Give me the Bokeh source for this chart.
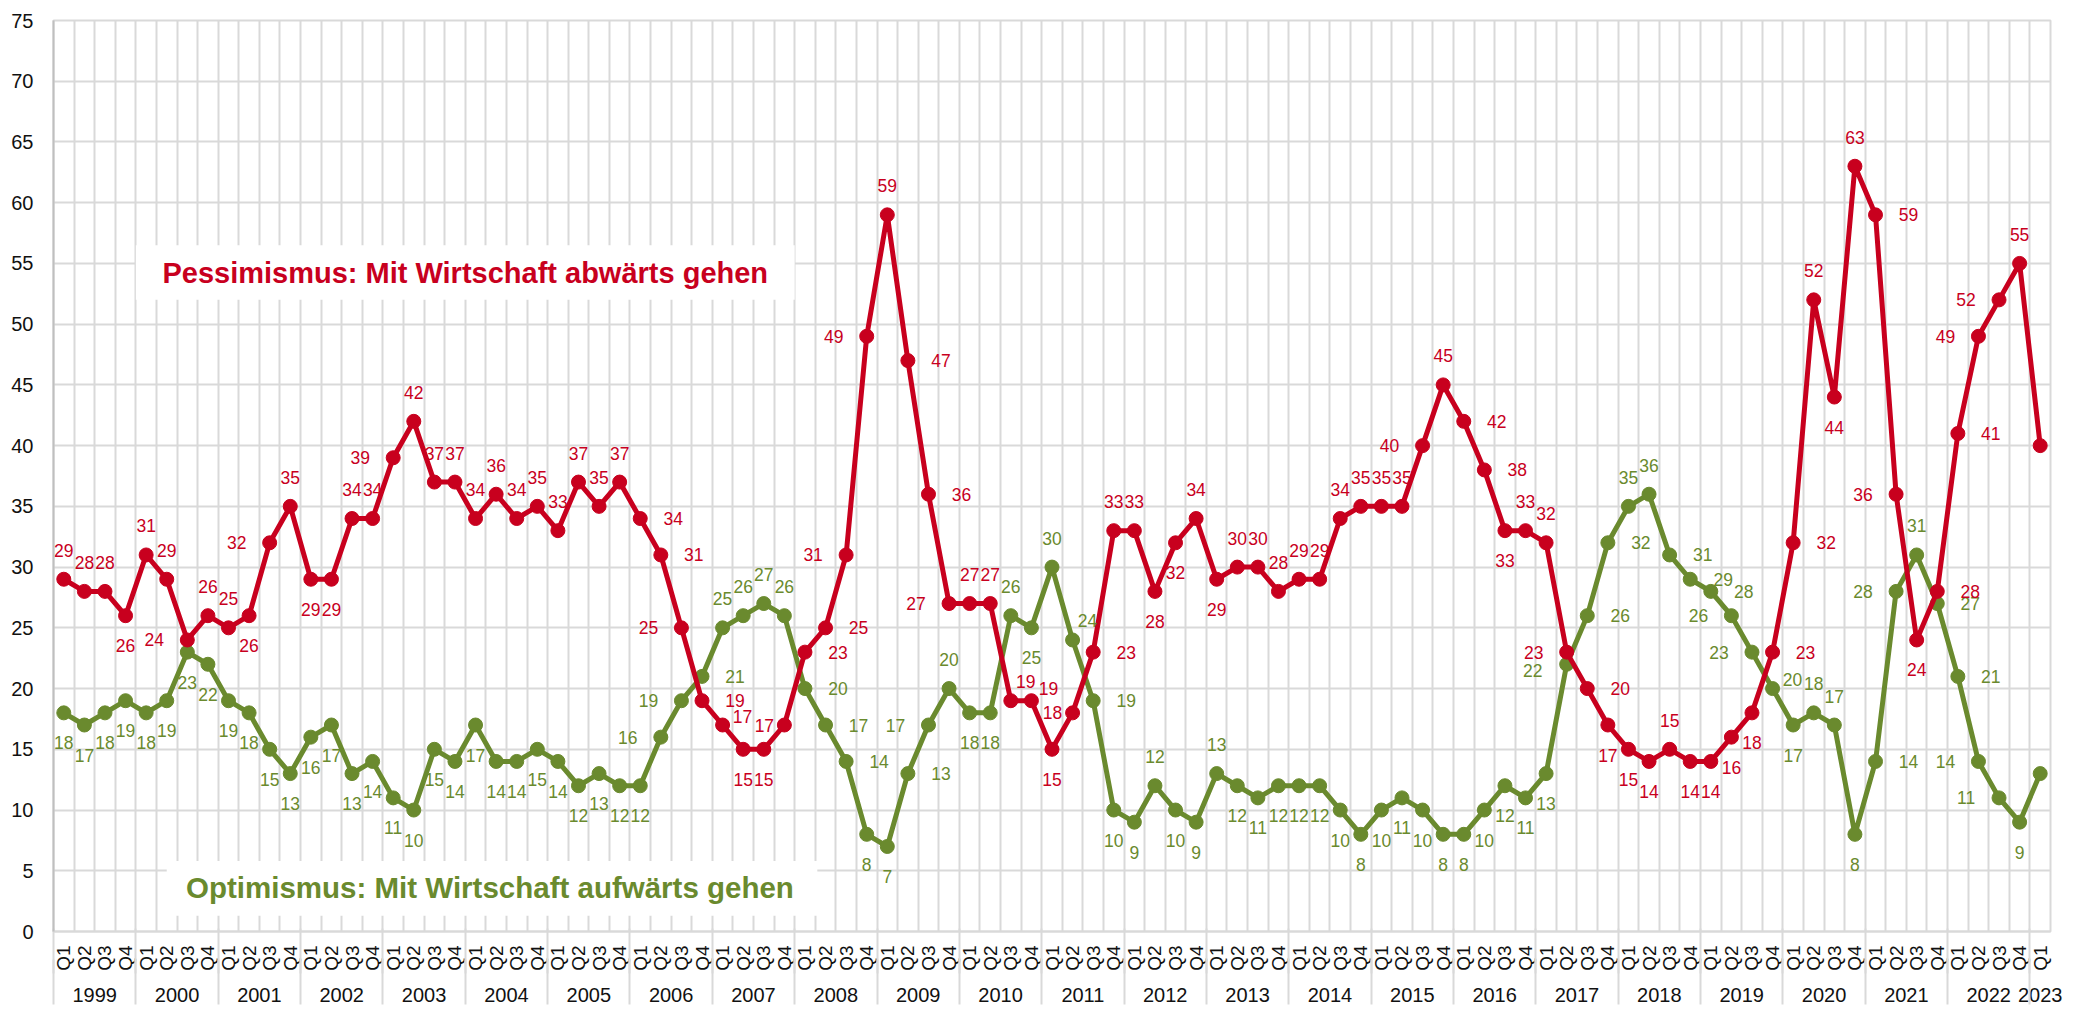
import numpy as np
from bokeh.plotting import figure
from bokeh.models import ColumnDataSource, FixedTicker, LinearAxis, Range1d, Grid
from bokeh.core.properties import value
from bokeh.embed import file_html
from bokeh.resources import INLINE

# ---------------- data ----------------
years = [str(y) for y in range(1999, 2024)]
quarters = ["Q1", "Q2", "Q3", "Q4"]
periods = [(y, q) for y in years for q in quarters][:97]

pessimism = [29, 28, 28, 26,  31, 29, 24, 26,  25, 26, 32, 35,  29, 29, 34, 34,
             39, 42, 37, 37,  34, 36, 34, 35,  33, 37, 35, 37,  34, 31, 25, 19,
             17, 15, 15, 17,  23, 25, 31, 49,  59, 47, 36, 27,  27, 27, 19, 19,
             15, 18, 23, 33,  33, 28, 32, 34,  29, 30, 30, 28,  29, 29, 34, 35,
             35, 35, 40, 45,  42, 38, 33, 33,  32, 23, 20, 17,  15, 14, 15, 14,
             14, 16, 18, 23,  32, 52, 44, 63,  59, 36, 24, 28,  41, 49, 52, 55,
             40]
optimism = [18, 17, 18, 19,  18, 19, 23, 22,  19, 18, 15, 13,  16, 17, 13, 14,
            11, 10, 15, 14,  17, 14, 14, 15,  14, 12, 13, 12,  12, 16, 19, 21,
            25, 26, 27, 26,  20, 17, 14, 8,   7, 13, 17, 20,   18, 18, 26, 25,
            30, 24, 19, 10,  9, 12, 10, 9,    13, 12, 11, 12,  12, 12, 10, 8,
            10, 11, 10, 8,   8, 10, 12, 11,   13, 22, 26, 32,  35, 36, 31, 29,
            28, 26, 23, 20,  17, 18, 17, 8,   14, 28, 31, 27,  21, 14, 11, 9,
            13]

# label placement codes (a=above, b=below, l=left, r=right, others: near variants)
pess_pos = ["a", "a", "a", "b",  "a", "a", "l", "a",  "a", "b", "l", "a",  "b", "b", "a", "a",
            "l", "a", "a", "a",  "a", "a", "a", "a",  "a", "a", "a", "a",  "r", "r", "l", "r",
            "rn", "b", "b", "ln", "r", "r", "l", "l",  "a", "r", "r", "l",  "a", "a", "ar", "ar2",
            "b", "ln", "r", "a",  "a", "b", "b", "a",  "b", "a", "a", "a",  "a", "a", "a", "a",
            "a", "a", "l", "a",  "r", "r", "b", "a",  "a", "l", "r", "b",  "b", "b", "a", "b",
            "b", "b", "b", "r",  "r", "a", "b", "a",  "r", "l", "b", "r",  "r", "l", "l", "a",
            "r"]
opt_pos = ["b", "b", "b", "b",  "b", "b", "b", "b",  "b", "b", "b", "b",  "b", "b", "b", "b",
           "b", "b", "b", "b",  "b", "b", "b", "b",  "b", "b", "b", "b",  "b", "l", "l", "r",
           "a", "a", "a", "a",  "r", "r", "r", "b",  "b", "r", "l", "a",  "b", "b", "a", "b",
           "a", "ar", "r", "b", "b", "a", "b", "b",  "a", "b", "b", "b",  "b", "b", "b", "b",
           "b", "b", "b", "b",  "b", "b", "b", "b",  "b", "lb", "r", "r",  "a", "a", "r", "r",
           "r", "l", "l", "rn",  "b", "a", "a", "b",  "r", "l", "a", "r",  "r", "l", "l", "b",
           "r"]

pess_title = "Pessimismus: Mit Wirtschaft abwärts gehen"
opt_title = "Optimismus: Mit Wirtschaft aufwärts gehen"

# ---------------- style ----------------
RED = "#C8001E"
GREEN = "#6A8A2E"
GRID = "#d9d9d9"
FONT = "Liberation Sans, Arial, sans-serif"
OFFS = {"a": (0, -29), "b": (0, 30), "l": (-33, 0), "r": (33, 0),
        "ar": (15, -19), "ar2": (17, -12), "rn": (20, -9), "ln": (-20, 0), "lb": (-34, 6)}

n = len(periods)
xs = list(range(n))

p = figure(width=2082, height=1008, x_range=Range1d(-0.5, n - 0.5), y_range=Range1d(0, 75),
           output_backend="svg", toolbar_location=None, x_axis_type=None,
           min_border_left=53, min_border_right=32, min_border_top=20, min_border_bottom=77)
p.background_fill_color = "white"
p.border_fill_color = "white"
p.outline_line_color = GRID
p.outline_line_width = 2

# y axis
p.yaxis.ticker = FixedTicker(ticks=list(range(0, 80, 5)))
p.yaxis.major_tick_line_color = None
p.yaxis.minor_tick_line_color = None
p.yaxis.major_tick_out = 0
p.yaxis.minor_tick_out = 0
p.yaxis.axis_line_color = "#bfbfbf"
p.yaxis.axis_line_width = 2
p.yaxis.major_label_text_font = FONT
p.yaxis.major_label_text_font_size = "20px"
p.yaxis.major_label_text_color = "#111111"
p.yaxis.major_label_standoff = 20
p.ygrid.ticker = FixedTicker(ticks=list(range(0, 80, 5)))
p.ygrid.grid_line_color = GRID
p.ygrid.grid_line_width = 2

# vertical grid at quarter boundaries
p.add_layout(Grid(dimension=0, ticker=FixedTicker(ticks=[i - 0.5 for i in range(n + 1)]),
                  grid_line_color=GRID, grid_line_width=2))

# year grouping
year_names, year_centers, year_starts = [], [], []
for y in years:
    idx = [i for i in xs if periods[i][0] == y]
    if idx:
        year_names.append(y)
        year_centers.append(float(np.mean(idx)))
        year_starts.append(idx[0] - 0.5)

# quarter axis
qaxis = LinearAxis(ticker=FixedTicker(ticks=xs),
                   major_label_overrides={i: periods[i][1] for i in xs},
                   major_label_orientation=np.pi / 2,
                   major_tick_line_color=None, minor_tick_line_color=None,
                   major_tick_out=0, major_tick_in=0, minor_tick_out=0, minor_tick_in=0,
                   axis_line_color=GRID, axis_line_width=2,
                   major_label_text_font=FONT, major_label_text_font_size="19px",
                   major_label_text_color="#111111", major_label_standoff=14)
p.add_layout(qaxis, "below")

# year axis (separators drawn upward through the quarter labels)
yaxis2 = LinearAxis(ticker=FixedTicker(ticks=year_centers, minor_ticks=year_starts),
                    major_label_overrides={c: nme for c, nme in zip(year_centers, year_names)},
                    major_tick_line_color=None, major_tick_out=0, major_tick_in=0,
                    minor_tick_line_color=GRID, minor_tick_line_width=2,
                    minor_tick_in=45, minor_tick_out=0,
                    axis_line_color=None,
                    major_label_text_font=FONT, major_label_text_font_size="20px",
                    major_label_text_color="#111111", major_label_standoff=14)
p.add_layout(yaxis2, "below")

# bottom helper axis: separators through the year labels
sep_axis = LinearAxis(ticker=FixedTicker(ticks=[], minor_ticks=year_starts),
                      major_tick_line_color=None, major_tick_out=0, major_tick_in=0,
                      minor_tick_line_color=GRID, minor_tick_line_width=2,
                      minor_tick_in=45, minor_tick_out=0, axis_line_color=None,
                      major_label_text_font_size="1px", major_label_standoff=0)
p.add_layout(sep_axis, "below")

# white boxes behind the series titles
p.quad(left=[3.5], right=[35.5], top=[56.5], bottom=[52.0], fill_color="white", line_color=None)
p.quad(left=[5.0], right=[36.6], top=[5.8], bottom=[1.3], fill_color="white", line_color=None)
p.text(x=[19.5], y=[54.2], text=[pess_title], text_align="center", text_baseline="middle",
       text_font=value(FONT), text_font_style="bold", text_font_size="29px", text_color=RED)
p.text(x=[20.7], y=[3.6], text=[opt_title], text_align="center", text_baseline="middle",
       text_font=value(FONT), text_font_style="bold", text_font_size="29.5px", text_color=GREEN)


def series(vals, pos, color):
    src = ColumnDataSource(dict(x=xs, y=vals, t=[str(v) for v in vals],
                                dx=[OFFS[k][0] for k in pos], dy=[OFFS[k][1] for k in pos]))
    p.line("x", "y", source=src, line_color=color, line_width=5, line_join="round")
    p.scatter("x", "y", source=src, size=14, fill_color=color, line_color=color)
    return src


gsrc = series(optimism, opt_pos, GREEN)
rsrc = series(pessimism, pess_pos, RED)
for src, color in ((gsrc, GREEN), (rsrc, RED)):
    p.text("x", "y", text="t", source=src, x_offset="dx", y_offset="dy",
           text_align="center", text_baseline="middle", text_font=value(FONT),
           text_font_size="17.5px", text_color=color)

open("out.html", "w").write(file_html(p, INLINE))
